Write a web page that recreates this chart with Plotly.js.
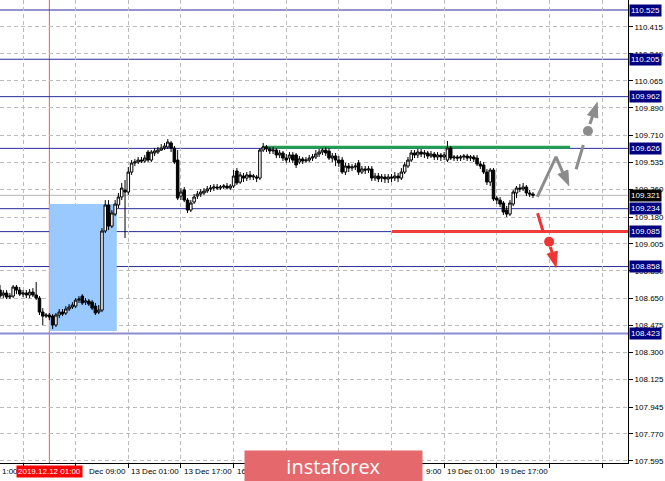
<!DOCTYPE html>
<html><head><meta charset="utf-8">
<script src="https://cdn.plot.ly/plotly-3.0.1.min.js"></script>
<style>html,body{margin:0;padding:0;background:#fff}#chart{width:665px;height:481px}</style>
</head><body><div id="chart"></div>
<script>
// ---- H1 candles (USDJPY), bar 0 = 11 Dec 10:00 ----
const barOpen = [
108.705,108.673,108.686,108.660,108.666,108.725,108.705,108.679,108.686,108.673,
108.692,108.673,108.653,108.562,108.536,108.543,108.536,108.478,108.543,108.562,
108.556,108.582,108.595,108.601,108.640,108.666,108.627,108.634,108.627,108.601,
108.562,108.575,109.089,109.258,109.121,109.199,109.258,109.310,109.355,109.342,
109.472,109.531,109.537,109.550,109.544,109.602,109.550,109.596,109.602,109.615,
109.628,109.635,109.661,109.628,109.550,109.316,109.355,109.290,109.225,109.277,
109.316,109.329,109.336,109.349,109.362,109.368,109.375,109.368,109.375,109.381,
109.368,109.381,109.479,109.407,109.446,109.433,109.453,109.440,109.440,109.433,
109.615,109.635,109.622,109.609,109.615,109.583,109.596,109.563,109.563,109.583,
109.583,109.537,109.557,109.544,109.550,109.563,109.570,109.589,109.602,109.615,
109.609,109.563,109.576,109.550,109.550,109.472,109.511,109.498,109.505,109.531,
109.472,109.492,109.485,109.492,109.433,109.446,109.433,109.440,109.427,109.440,
109.433,109.446,109.433,109.472,109.511,109.550,109.596,109.583,109.602,109.589,
109.596,109.576,109.589,109.570,109.583,109.570,109.550,109.628,109.563,109.570,
109.563,109.570,109.576,109.563,109.570,109.563,109.524,109.518,109.472,109.407,
109.485,109.303,109.290,109.271,109.225,109.199,109.264,109.336,109.368,109.362,
109.375,109.336,109.329];
const barHigh = [
108.738,108.705,108.705,108.686,108.738,108.738,108.725,108.705,108.705,108.712,
108.718,108.757,108.666,108.588,108.556,108.556,108.549,108.556,108.582,108.582,
108.601,108.614,108.627,108.653,108.666,108.679,108.653,108.647,108.640,108.621,
108.608,109.108,109.290,109.290,109.225,109.290,109.336,109.401,109.420,109.505,
109.550,109.557,109.570,109.570,109.583,109.615,109.615,109.628,109.635,109.654,
109.661,109.687,109.674,109.641,109.615,109.368,109.375,109.303,109.290,109.329,
109.349,109.362,109.368,109.381,109.388,109.394,109.394,109.388,109.394,109.401,
109.394,109.485,109.498,109.472,109.466,109.472,109.479,109.459,109.453,109.628,
109.661,109.648,109.635,109.635,109.628,109.615,109.609,109.589,109.602,109.602,
109.596,109.576,109.570,109.570,109.583,109.589,109.615,109.622,109.628,109.635,
109.628,109.596,109.596,109.576,109.570,109.531,109.531,109.524,109.531,109.550,
109.511,109.511,109.511,109.511,109.466,109.466,109.459,109.459,109.459,109.459,
109.472,109.466,109.498,109.537,109.570,109.615,109.615,109.622,109.622,109.615,
109.609,109.609,109.602,109.602,109.596,109.602,109.674,109.641,109.583,109.583,
109.583,109.589,109.589,109.583,109.583,109.583,109.544,109.537,109.492,109.498,
109.498,109.316,109.310,109.284,109.251,109.290,109.355,109.381,109.394,109.401,
109.388,109.355,109.342];
const barLow = [
108.653,108.653,108.647,108.647,108.653,108.679,108.666,108.660,108.653,108.653,
108.660,108.640,108.543,108.478,108.523,108.510,108.452,108.465,108.523,108.536,
108.543,108.569,108.582,108.588,108.621,108.608,108.608,108.601,108.575,108.543,
108.549,108.562,109.076,109.095,109.108,109.186,109.238,109.290,109.043,109.323,
109.453,109.511,109.524,109.531,109.531,109.537,109.537,109.576,109.589,109.609,
109.615,109.622,109.602,109.524,109.290,109.290,109.277,109.206,109.212,109.264,
109.297,109.310,109.323,109.336,109.342,109.349,109.355,109.355,109.362,109.362,
109.355,109.368,109.388,109.394,109.407,109.414,109.420,109.420,109.407,109.420,
109.602,109.602,109.589,109.589,109.563,109.563,109.544,109.531,109.537,109.531,
109.498,109.524,109.524,109.531,109.537,109.544,109.557,109.570,109.583,109.576,
109.550,109.537,109.511,109.505,109.459,109.453,109.472,109.479,109.485,109.453,
109.459,109.459,109.466,109.414,109.414,109.407,109.407,109.401,109.401,109.407,
109.414,109.407,109.420,109.459,109.498,109.537,109.563,109.563,109.570,109.563,
109.557,109.563,109.550,109.550,109.544,109.550,109.537,109.550,109.544,109.544,
109.544,109.550,109.544,109.544,109.537,109.511,109.492,109.459,109.388,109.381,
109.284,109.264,109.245,109.193,109.180,109.186,109.251,109.303,109.342,109.349,
109.316,109.310,109.303];
const barClose = [
108.666,108.686,108.660,108.666,108.725,108.705,108.679,108.686,108.673,108.692,
108.673,108.653,108.562,108.536,108.543,108.530,108.478,108.543,108.562,108.549,
108.582,108.595,108.608,108.640,108.647,108.621,108.634,108.614,108.588,108.556,
108.575,109.089,109.258,109.121,109.206,109.264,109.310,109.368,109.342,109.472,
109.531,109.537,109.550,109.544,109.563,109.550,109.602,109.609,109.615,109.628,
109.641,109.667,109.628,109.537,109.303,109.342,109.290,109.225,109.271,109.310,
109.329,109.342,109.349,109.362,109.368,109.375,109.368,109.375,109.381,109.368,
109.381,109.446,109.401,109.453,109.433,109.453,109.440,109.446,109.433,109.615,
109.635,109.622,109.609,109.615,109.583,109.596,109.563,109.550,109.583,109.550,
109.518,109.557,109.544,109.550,109.563,109.570,109.589,109.602,109.615,109.596,
109.563,109.576,109.550,109.531,109.472,109.511,109.498,109.505,109.511,109.472,
109.492,109.485,109.492,109.433,109.446,109.427,109.440,109.427,109.440,109.433,
109.446,109.433,109.472,109.518,109.550,109.596,109.583,109.602,109.589,109.596,
109.576,109.589,109.570,109.583,109.570,109.583,109.628,109.563,109.570,109.563,
109.570,109.576,109.563,109.570,109.557,109.524,109.511,109.472,109.407,109.485,
109.297,109.290,109.264,109.212,109.199,109.271,109.342,109.368,109.362,109.375,
109.336,109.329,109.321];
const barIndex = barOpen.map((_, i) => i);

// ---- price levels & axis ticks ----
const levelPrices = [110.525, 110.205, 109.962, 109.626, 109.234, 109.085, 108.858, 108.423];
const currentPrice = 109.321;
const yTickVals = [110.415,110.240,110.065,109.890,109.710,109.535,109.360,109.180,109.005,
                   108.830,108.650,108.475,108.300,108.125,107.945,107.770,107.595];
const timeTickIdx = [7, 23, 39, 55, 71, 87, 103, 119, 135, 151, 167, 183];
// visible parts of the time labels (the rest is hidden behind the date box and the logo)
const timeTickText = ["", "Dec 09:00", "13 Dec 01:00", "13 Dec 17:00", "16", "", "", "9:00", "19 Dec 01:00", "19 Dec 17:00"];
const timeTickShift = [0, 11, 1, 1, 1, 0, 0, 32, 1, 1];
const firstLabelTail = "1:00";
const markerIdx = 15, markerLabel = "2019.12.12 01:00";

// ---- drawn objects ----
const zoneIdx = [15, 35.5], zonePrice = [108.439, 109.264];
const resistIdx = [79.6, 173.3], resistPrice = 109.633;
const supportIdx = [119.1, 190.9], supportPrice = 109.085;
const greyPathIdx = [163.3, 169.0, 171.0], greyPathPrice = [109.311, 109.571, 109.471];
const greyHeadIdx = [172.9, 172.6, 169.5], greyHeadPrice = [109.381, 109.485, 109.456];
const greyStrokeIdx = [175.1, 177.3], greyStrokePrice = [109.490, 109.648];
const greyDotIdx = [178.7], greyDotPrice = [109.739];
const greyShaftIdx = [179.3, 180.1], greyShaftPrice = [109.784, 109.834];
const greyHead2Idx = [181.5, 181.7, 178.5], greyHead2Price = [109.927, 109.823, 109.845];
const redStrokeIdx = [163.4, 165.1], redStrokePrice = [109.204, 109.084];
const redDotIdx = [166.9], redDotPrice = [109.019];
const redShaftIdx = [167.3, 167.8], redShaftPrice = [108.985, 108.948];
const redHeadIdx = [169.0, 169.4, 166.2], redHeadPrice = [108.851, 108.958, 108.938];

const GREY = "#8c8c8c", RED = "#ee3434";
function line(x, y, c) { return {type:"scatter", mode:"lines", x, y, line:{color:c, width:3}, hoverinfo:"skip"}; }
function dot(x, y, c) { return {type:"scatter", mode:"markers", x, y, marker:{color:c, size:10}, hoverinfo:"skip"}; }
function head(x, y, c) { return {type:"scatter", mode:"lines", x, y, fill:"toself", fillcolor:c, line:{color:c, width:1}, hoverinfo:"skip"}; }

const traces = [
  {type:"candlestick", x:barIndex, open:barOpen, high:barHigh, low:barLow, close:barClose,
   increasing:{line:{color:"#000", width:1}, fillcolor:"#fff"},
   decreasing:{line:{color:"#000", width:1}, fillcolor:"#000"},
   whiskerwidth:0, hoverinfo:"skip"},
  line(greyPathIdx, greyPathPrice, GREY), head(greyHeadIdx, greyHeadPrice, GREY),
  line(greyStrokeIdx, greyStrokePrice, GREY), dot(greyDotIdx, greyDotPrice, GREY),
  line(greyShaftIdx, greyShaftPrice, GREY), head(greyHead2Idx, greyHead2Price, GREY),
  line(redStrokeIdx, redStrokePrice, RED), dot(redDotIdx, redDotPrice, RED),
  line(redShaftIdx, redShaftPrice, RED), head(redHeadIdx, redHeadPrice, RED)
];

const shapes = [
  {type:"rect", layer:"between", xref:"x", yref:"y", x0:zoneIdx[0], x1:zoneIdx[1], y0:zonePrice[0], y1:zonePrice[1],
   fillcolor:"#99c9ff", line:{width:0}},
  {type:"line", layer:"between", xref:"paper", yref:"y", x0:0, x1:1, y0:currentPrice, y1:currentPrice,
   line:{color:"#b4b4b4", width:1}},
  {type:"line", layer:"between", xref:"x", yref:"paper", x0:markerIdx, x1:markerIdx, y0:0, y1:1,
   line:{color:"#f05a5a", width:1}}
];
levelPrices.forEach((p, k) => {
  const last = k === levelPrices.length - 1;
  shapes.push({type:"line", layer:"between", xref:"paper", yref:"y", x0:0, x1:1, y0:p, y1:p,
    line:{color: last ? "#8c8cd2" : "#2b2b9b", width: last ? 2 : 1}});
});
shapes.push({type:"line", layer:"between", xref:"x", yref:"y", x0:resistIdx[0], x1:resistIdx[1], y0:resistPrice, y1:resistPrice,
  line:{color:"#22a052", width:3}});
shapes.push({type:"line", layer:"between", xref:"x", yref:"y", x0:supportIdx[0], x1:supportIdx[1], y0:supportPrice, y1:supportPrice,
  line:{color:"#f03c3c", width:3}});

const F = "Liberation Sans, Arial, sans-serif";
const labelY = -0.0173;
const annotations = [];
timeTickText.forEach((t, k) => {
  if (!t) return;
  annotations.push({xref:"x", yref:"paper", x:timeTickIdx[k], y:labelY, xanchor:"left", yanchor:"middle",
    xshift:timeTickShift[k], text:t, showarrow:false, font:{family:F, size:8, color:"#000"}});
});
annotations.push({xref:"paper", yref:"paper", x:0, y:labelY, xanchor:"left", yanchor:"middle",
  text:firstLabelTail, showarrow:false, font:{family:F, size:8, color:"#000"}});
annotations.push({xref:"x", yref:"paper", x:markerIdx, y:labelY, xanchor:"center", yanchor:"middle",
  text:markerLabel, showarrow:false, bgcolor:"#ff0000", borderpad:1, font:{family:F, size:8, color:"#fff"}});
levelPrices.forEach(p => {
  annotations.push({xref:"paper", yref:"y", x:1, y:p, xanchor:"left", yanchor:"middle", xshift:1,
    text:p.toFixed(3), showarrow:false, bgcolor:"#000080", borderpad:1, font:{family:F, size:8, color:"#fff"}});
});
annotations.push({xref:"paper", yref:"y", x:1, y:currentPrice, xanchor:"left", yanchor:"middle", xshift:1,
  text:currentPrice.toFixed(3), showarrow:false, bgcolor:"#000", borderpad:1, font:{family:F, size:8, color:"#fff"}});
annotations.push({xref:"paper", yref:"paper", x:0.531, y:-0.0065, xanchor:"center", yanchor:"middle",
  width:177, height:31, borderpad:0, bgcolor:"#e4686c", text:"instaforex", showarrow:false,
  font:{family:"Open Sans, sans-serif", size:20, color:"#fff"}});

const layout = {
  width:665, height:481, margin:{l:0, r:37, t:0, b:18},
  paper_bgcolor:"#fff", plot_bgcolor:"#fff", showlegend:false, hovermode:false,
  boxgap:0.15, boxgroupgap:0.1,
  xaxis:{range:[0, 190.88], rangeslider:{visible:false}, tickmode:"array", tickvals:timeTickIdx,
    showticklabels:false, ticks:"outside", ticklen:4, tickcolor:"#000",
    showgrid:true, gridcolor:"#bcbcbc", griddash:"4px,3px", gridwidth:1,
    showline:true, linecolor:"#000", linewidth:1, zeroline:false, fixedrange:true},
  yaxis:{side:"right", range:[107.5815, 110.590], tickmode:"array", tickvals:yTickVals,
    ticktext:yTickVals.map(v => v.toFixed(3)), ticks:"outside", ticklen:4, tickcolor:"#000",
    tickfont:{family:F, size:8, color:"#000"},
    showgrid:true, gridcolor:"#bcbcbc", griddash:"4px,3px", gridwidth:1,
    showline:true, linecolor:"#000", linewidth:1, zeroline:false, fixedrange:true},
  shapes, annotations
};
Plotly.newPlot("chart", traces, layout, {displayModeBar:false, staticPlot:true});
</script></body></html>
